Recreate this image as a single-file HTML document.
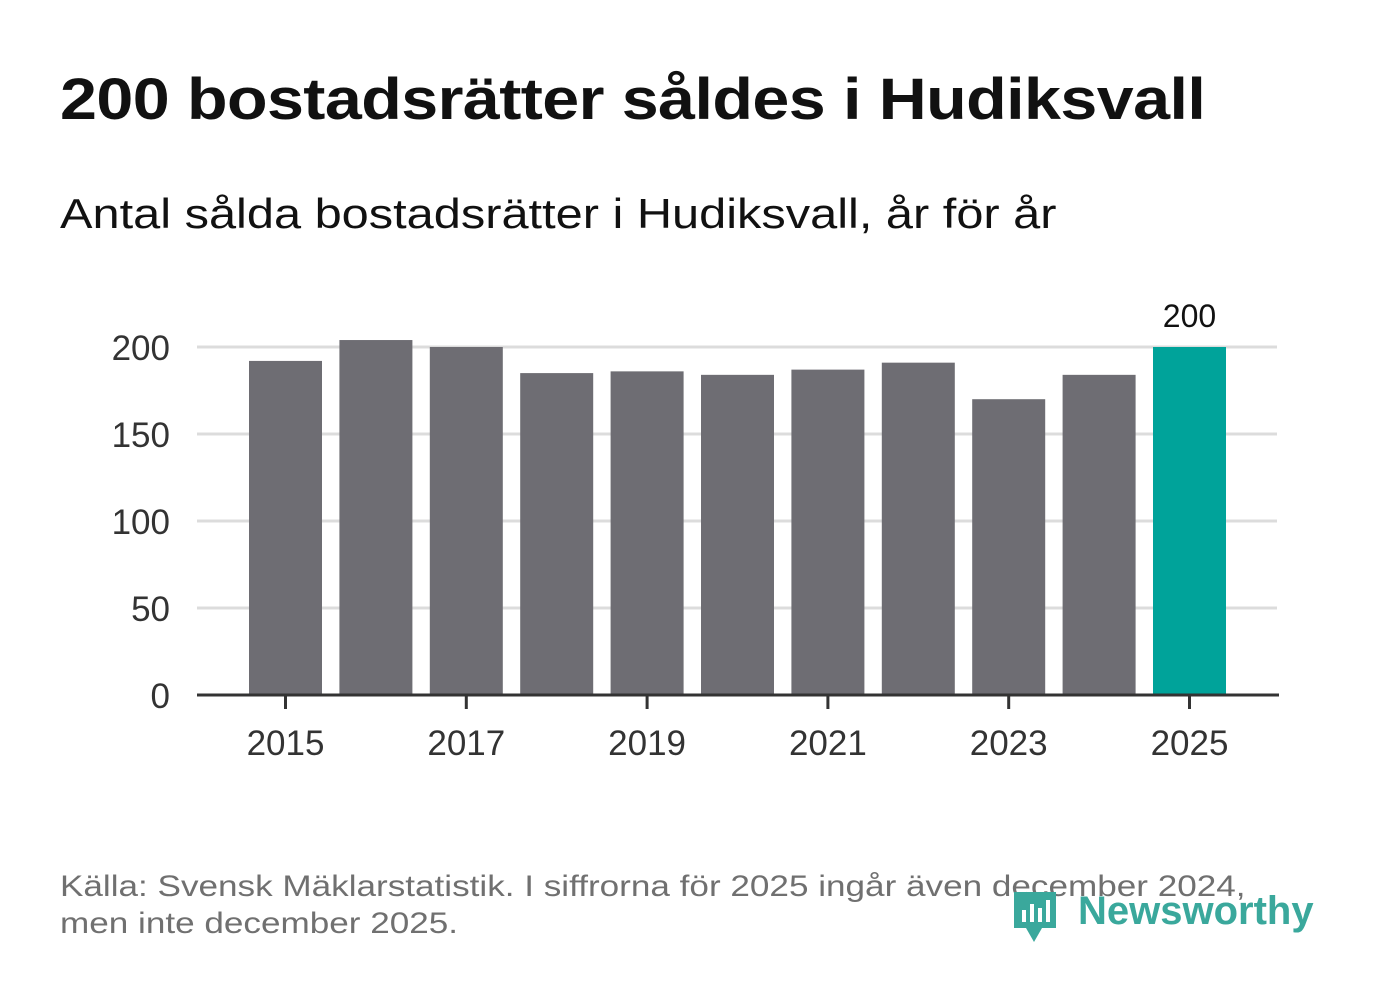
<!DOCTYPE html>
<html><head><meta charset="utf-8">
<style>
body{margin:0;width:1382px;height:999px;background:#fff;font-family:"Liberation Sans","DejaVu Sans",sans-serif;overflow:hidden;position:relative}
#title{position:absolute;left:60px;top:66px;font-size:58px;font-weight:bold;color:#111;margin:0;letter-spacing:-0.5px;transform:scaleX(1.145);transform-origin:0 0;white-space:nowrap}
#sub{position:absolute;left:60px;top:190px;font-size:42px;color:#111;transform:scaleX(1.16);transform-origin:0 0;white-space:nowrap}
#src{position:absolute;left:60px;top:868px;font-size:30px;color:#707070;line-height:37px;transform:scaleX(1.17);transform-origin:0 0;white-space:nowrap}
#logo{position:absolute;left:1010px;top:886px}
</style></head><body>
<h1 id="title">200 bostadsrätter såldes i Hudiksvall</h1>
<div id="sub">Antal sålda bostadsrätter i Hudiksvall, år för år</div>
<svg id="chart" width="1382" height="999" style="position:absolute;left:0;top:0"></svg>
<div id="src">Källa: Svensk Mäklarstatistik. I siffrorna för 2025 ingår även december 2024,<br>men inte december 2025.</div>
<svg id="logo" width="320" height="60">
<path d="M4 6 h42 v36 h-14 l-8 14 l-8 -14 h-12 z" fill="#3aa89c"/>
<rect x="12" y="24" width="4" height="12" fill="#fff"/><rect x="20" y="18" width="4" height="18" fill="#fff"/><rect x="28" y="22" width="4" height="14" fill="#fff"/><rect x="36" y="14" width="4" height="22" fill="#fff"/>
<text x="68" y="38" font-size="40" font-weight="bold" fill="#3aa89c" font-family="Liberation Sans, sans-serif">Newsworthy</text>
</svg>
<script>
const years=[2015,2016,2017,2018,2019,2020,2021,2022,2023,2024,2025];
const values=[192,204,200,185,186,184,187,191,170,184,200];
const yTicks=[0,50,100,150,200];
const xTickYears=[2015,2017,2019,2021,2023,2025];
const NS="http://www.w3.org/2000/svg";
const svg=document.getElementById('chart');
const y0=695,pxPer=1.74;
const yS=v=>y0-v*pxPer;
const xS=yr=>285.5+(yr-2015)*90.4;
function el(t,a){const e=document.createElementNS(NS,t);for(const k in a)e.setAttribute(k,a[k]);svg.appendChild(e);return e;}
yTicks.forEach(v=>{
 if(v>0){const g=el('line',{x1:197,x2:1277,y1:yS(v),y2:yS(v),stroke:'#dcdcdc','stroke-width':3});
 
 }
 const t=el('text',{x:170,y:yS(v)+13,'text-anchor':'end','font-size':35,fill:'#333'});t.textContent=v;
 
 
});
years.forEach((yr,i)=>{
 const v=values[i];
 const r=el('rect',{x:xS(yr)-36.5,y:yS(v),width:73,height:v*pxPer,fill:yr===2025?'#00a39a':'#6e6d73'});
 
 
});
const last=values.length-1;
const lbl=el('text',{x:xS(years[last]),y:yS(values[last])-20,'text-anchor':'middle','font-size':32,fill:'#111'});
lbl.textContent=values[last];


const ax=el('line',{x1:197,x2:1279,y1:y0,y2:y0,stroke:'#333','stroke-width':3});


xTickYears.forEach(yr=>{
 const tk=el('line',{x1:xS(yr),x2:xS(yr),y1:y0,y2:y0+14,stroke:'#333','stroke-width':3});
 
 
 const t=el('text',{x:xS(yr),y:755,'text-anchor':'middle','font-size':35,fill:'#333'});t.textContent=yr;
 
 
});
</script>
</body></html>
